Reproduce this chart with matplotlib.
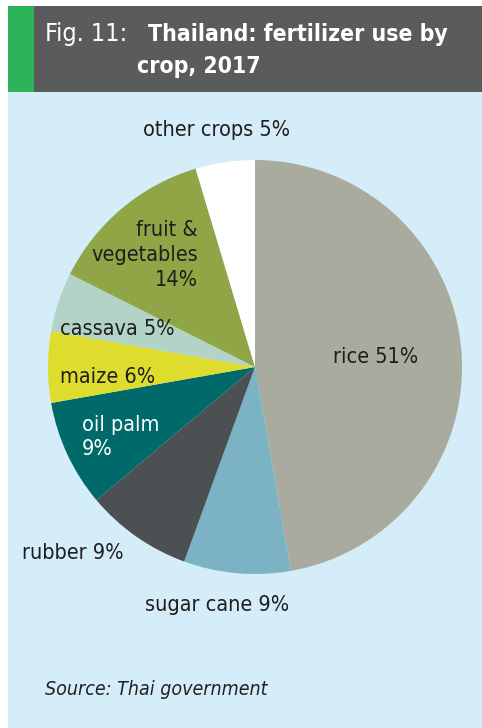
import matplotlib.pyplot as plt
from matplotlib.patches import Rectangle

plt.rcParams['font.family'] = ['DejaVu Sans']
plt.rcParams['font.stretch'] = 'condensed'

# fertilizer use by crop, clockwise from 12 o'clock
crops = ['rice', 'sugar cane', 'rubber', 'oil palm', 'maize', 'cassava',
         'fruit &\nvegetables', 'other crops']
shares = [51, 9, 9, 9, 6, 5, 14, 5]
colors = ['#a8ab9e', '#7bb3c4', '#4d5052', '#006a6a', '#dedd2e', '#b3d3c6',
          '#8fa546', '#ffffff']

W, H = 482, 728
fig = plt.figure(figsize=(W / 100, H / 100), dpi=100)

# page in pixel units
bg = fig.add_axes([0, 0, 1, 1])
bg.set_xlim(0, W)
bg.set_ylim(H, 0)
bg.axis('off')
bg.add_patch(Rectangle((8, 92), W - 8, H - 92, color='#d5ecf9', lw=0))
bg.add_patch(Rectangle((8, 6), W - 8, 86, color='#595b5c', lw=0))
bg.add_patch(Rectangle((8, 6), 26, 86, color='#2db45a', lw=0))

# the pie itself
cx, cy, r = 255, 367, 207
pie = fig.add_axes([(cx - r) / W, (H - cy - r) / H, 2 * r / W, 2 * r / H])
pie.pie(shares, colors=colors, startangle=90, counterclock=False,
        wedgeprops=dict(linewidth=0))
pie.set_xlim(-1, 1)
pie.set_ylim(-1, 1)
pie.axis('off')

# overlay for text, above the pie
top = fig.add_axes([0, 0, 1, 1])
top.set_xlim(0, W)
top.set_ylim(H, 0)
top.axis('off')

top.text(45, 41, 'Fig. 11:', color='white', fontsize=18, va='baseline')
top.text(148, 41, 'Thailand: fertilizer use by', color='white', fontsize=16.5,
         fontweight='bold', va='baseline')
top.text(137, 73, 'crop, 2017', color='white', fontsize=16.5,
         fontweight='bold', va='baseline')
top.text(45, 695, 'Source: Thai government', fontsize=14, style='italic',
         color='#222222', va='baseline')

labels = [f'{c} {s}%' for c, s in zip(crops, shares)]
labels[3] = f'{crops[3]}\n{shares[3]}%'
labels[6] = f'{crops[6]}\n{shares[6]}%'

# label placement (pixels, alignment, colour)
spots = [(333, 357, 'left', '#1e1e1e'),
         (145, 605, 'left', '#1e1e1e'),
         (22, 553, 'left', '#1e1e1e'),
         (82, 437, 'left', 'white'),
         (60, 377, 'left', '#1e1e1e'),
         (60, 329, 'left', '#1e1e1e'),
         (198, 255, 'right', '#1e1e1e'),
         (143, 130, 'left', '#1e1e1e')]
for lab, (x, y, ha, col) in zip(labels, spots):
    top.text(x, y, lab, fontsize=15.5, ha=ha, va='center', color=col,
             multialignment=ha, linespacing=1.3)

fig.savefig('out.png', dpi=100)
